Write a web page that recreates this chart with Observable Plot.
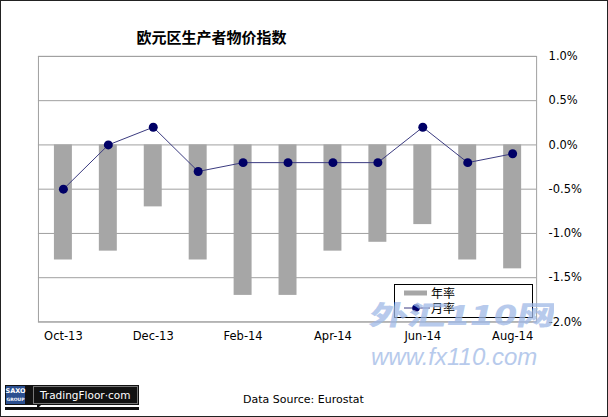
<!DOCTYPE html>
<html>
<head>
<meta charset="utf-8">
<script src="https://cdn.jsdelivr.net/npm/d3@7"></script>
<script src="https://cdn.jsdelivr.net/npm/@observablehq/plot@0.6"></script>
<style>
  html, body { margin: 0; padding: 0; background: #fff; }
  #page { position: relative; width: 608px; height: 417px; box-sizing: border-box; border: 1px solid #222; overflow: hidden; font-family: "DejaVu Sans", sans-serif; }
  #chart { position: absolute; left: -1px; top: -1px; }
  #title { position: absolute; left: 0; width: 421px; top: 25px; text-align: center; font-family: "Noto Sans CJK SC", sans-serif; font-weight: bold; font-size: 15px; color: #000; }
  .wm1 { position: absolute; left: 367px; top: 299px; width: 186px; height: 30px; }
  .wm2 { position: absolute; left: 370px; top: 347px; font-family: "Liberation Sans", sans-serif; font-style: italic; font-size: 24px; line-height: 17px; height: 17px; color: #9fb9e6; opacity: 0.75; white-space: nowrap; }
  #legend { position: absolute; left: 393px; top: 283px; width: 139px; height: 34px; border: 1px solid #000; background: #fff; box-sizing: border-box; }
  #footer-src { position: absolute; left: 242px; top: 392px; font-size: 11px; color: #000; }
  #logo { position: absolute; left: 3px; top: 383px; width: 136px; height: 28px; }
</style>
</head>
<body>
<div id="page">
  <div id="chart"></div>
  <div id="title">欧元区生产者物价指数</div>
  <div id="legend">
    <svg width="137" height="32" style="position:absolute;left:0;top:0">
      <line x1="9" x2="32" y1="8" y2="8" stroke="#a6a6a6" stroke-width="5"></line>
      <text x="36" y="12.5" font-size="12" font-family="Noto Sans CJK SC">年率</text>
      <line x1="9" x2="35" y1="23" y2="23" stroke="#3a3a80" stroke-width="1"></line>
      <circle cx="21" cy="23" r="3.8" fill="#000066"></circle>
      <text x="36" y="27.5" font-size="12" font-family="Noto Sans CJK SC">月率</text>
    </svg>
  </div>
  <svg class="wm1" width="186" height="30">
    <text x="0" y="25" textLength="186" lengthAdjust="spacingAndGlyphs" font-family="Noto Sans CJK SC" font-weight="900" font-size="27" fill="#9fb9e6" fill-opacity="0.75" transform="skewX(-12) translate(5,0)">外汇110网</text>
  </svg>
  <div class="wm2">www.fx110.com</div>
  <svg id="logo" width="136" height="28">
    <rect x="1" y="1" width="134" height="20" fill="#111"></rect>
    <rect x="2" y="2" width="19" height="18" fill="#2b4f8f"></rect>
    <text x="11.5" y="9" font-size="6.5" font-weight="bold" fill="#fff" text-anchor="middle" font-family="DejaVu Sans">SAXO</text>
    <text x="11.5" y="17" font-size="4.5" font-weight="bold" fill="#fff" text-anchor="middle" font-family="DejaVu Sans">GROUP</text>
    <rect x="29.5" y="2.5" width="104" height="17" fill="#111" stroke="#777" stroke-width="1"></rect>
    <path d="M33 20 L33 25 L38 20 Z" fill="#111"></path>
    <rect x="1" y="23" width="134" height="3" fill="#111"></rect>
    <text x="36" y="15" font-size="10.5" fill="#fff" font-family="DejaVu Sans">TradingFloor·com</text>
  </svg>
  <div id="footer-src">Data Source: Eurostat</div>
</div>
<script>
const months = ["Oct-13","Nov-13","Dec-13","Jan-14","Feb-14","Mar-14","Apr-14","May-14","Jun-14","Jul-14","Aug-14"];
const yoyRate = [-1.3, -1.2, -0.7, -1.3, -1.7, -1.7, -1.2, -1.1, -0.9, -1.3, -1.4];
const momRate = [-0.5, 0.0, 0.2, -0.3, -0.2, -0.2, -0.2, -0.2, 0.2, -0.2, -0.1];
const xTickLabels = ["Oct-13","Dec-13","Feb-14","Apr-14","Jun-14","Aug-14"];
const yTicks = [1.0, 0.5, 0.0, -0.5, -1.0, -1.5, -2.0];

const data = months.map((m, i) => ({month: m, yoy: yoyRate[i], mom: momRate[i]}));
const fmt = d => d.toFixed(1) + "%";

const chart = Plot.plot({
  width: 608,
  height: 352,
  marginLeft: 38,
  marginRight: 71,
  marginTop: 56,
  marginBottom: 30,
  style: {fontFamily: "DejaVu Sans", fontSize: "11.5px", color: "#000", background: "transparent"},
  x: {domain: months, paddingInner: 0.6, paddingOuter: 0.3, label: null},
  y: {domain: [-2, 1], label: null},
  marks: [
    Plot.gridY(yTicks, {stroke: "#a0a0a0", strokeOpacity: 1}),
    Plot.frame({stroke: "#a0a0a0"}),
    Plot.barY(data, {x: "month", y1: 0, y2: "yoy", fill: "#a6a6a6"}),
    Plot.lineY(data, {x: "month", y: "mom", stroke: "#3a3a80", strokeWidth: 1}),
    Plot.dot(data, {x: "month", y: "mom", r: 4.5, fill: "#000066", stroke: "none"}),
    Plot.axisY(yTicks, {anchor: "right", tickSize: 0, tickPadding: 12, tickFormat: fmt, textAnchor: "start", fill: "#000", label: null}),
    Plot.axisX(xTickLabels, {tickSize: 0, tickPadding: 10, fill: "#000", label: null})
  ]
});
document.getElementById("chart").appendChild(chart);
</script>
</body>
</html>
